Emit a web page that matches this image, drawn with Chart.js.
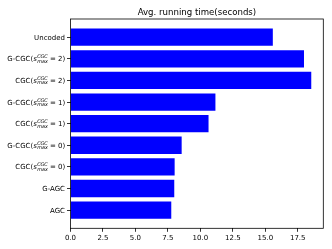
<!DOCTYPE html>
<html lang="en">
<head>
<meta charset="UTF-8">
<title>Avg. running time</title>
<script src="https://cdn.jsdelivr.net/npm/chart.js"></script>
<style>
  body { margin: 0; background: #fff; }
  #wrap { width: 332px; height: 249px; }
</style>
</head>
<body>
<div id="wrap"><canvas id="chart"></canvas></div>
<script>
// bottom to top, same order as the barh call
const categories = [
  'AGC',
  'G-AGC',
  'CGC($s_{max}^{CGC}=0$)',
  'G-CGC($s_{max}^{CGC}=0$)',
  'CGC($s_{max}^{CGC}=1$)',
  'G-CGC($s_{max}^{CGC}=1$)',
  'CGC($s_{max}^{CGC}=2$)',
  'G-CGC($s_{max}^{CGC}=2$)',
  'Uncoded'
];
const runTimes = [7.76, 7.99, 8.02, 8.56, 10.63, 11.16, 18.54, 17.98, 15.58];
const xTicks = [0, 2.5, 5, 7.5, 10, 12.5, 15, 17.5];
const chartTitle = 'Avg. running time(seconds)';

const FONT = '"DejaVu Sans", sans-serif';
const tickSize = 7;
const titleSize = 8.6;

// matplotlib style margins: bars are 0.8 tall, 5% padding on both axes
const barHalf = 0.4;
const yPad = barHalf + 0.05 * (categories.length - 1 + 2 * barHalf);
const xMax = Math.max(...runTimes) * 1.05;

// draws "pre$s_{sub}^{sup}=v$post" with stacked scripts
function drawLabel(ctx, text, right, y) {
  const base = tickSize + 'px ' + FONT;
  const ital = 'oblique ' + tickSize + 'px ' + FONT;
  const small = 'oblique ' + (tickSize * 0.7).toFixed(2) + 'px ' + FONT;
  const baseline = y + tickSize * 0.36;
  ctx.fillStyle = '#000';
  ctx.textBaseline = 'alphabetic';
  ctx.textAlign = 'left';
  const m = text.match(/^(.*)\$(\w)_\{(\w+)\}\^\{(\w+)\}=(\w+)\$(.*)$/);
  if (!m) {
    ctx.font = base;
    ctx.textAlign = 'right';
    ctx.fillText(text, right, baseline);
    return;
  }
  const [, pre, v, sub, sup, val, post] = m;
  const rest = ' = ' + val + post;
  ctx.font = base;
  const wPre = ctx.measureText(pre).width;
  const wRest = ctx.measureText(rest).width;
  ctx.font = ital;
  const wV = ctx.measureText(v).width;
  ctx.font = small;
  const wScript = Math.max(ctx.measureText(sub).width, ctx.measureText(sup).width);
  let x = right - (wPre + wV + wScript + wRest);
  ctx.font = base;
  ctx.fillText(pre, x, baseline);
  x += wPre;
  ctx.font = ital;
  ctx.fillText(v, x, baseline);
  x += wV + 0.3;
  ctx.font = small;
  ctx.fillText(sup, x, baseline - tickSize * 0.42);
  ctx.fillText(sub, x, baseline + tickSize * 0.2);
  x += wScript;
  ctx.font = base;
  ctx.fillText(rest, x, baseline);
}

const decorations = {
  id: 'decorations',
  afterDatasetsDraw(chart) {
    const { ctx, chartArea: a } = chart;
    ctx.save();
    ctx.strokeStyle = '#000';
    ctx.lineWidth = 0.8;
    ctx.strokeRect(a.left, a.top, a.right - a.left, a.bottom - a.top);
    ctx.restore();
  },
  afterDraw(chart) {
    const { ctx, chartArea: a, scales } = chart;
    ctx.save();
    categories.forEach((c, i) => {
      drawLabel(ctx, c, a.left - 5.5, scales.y.getPixelForValue(i));
    });
    ctx.font = titleSize + 'px ' + FONT;
    ctx.textAlign = 'center';
    ctx.textBaseline = 'middle';
    ctx.fillStyle = '#000';
    ctx.fillText(chartTitle, (a.left + a.right) / 2, 13);
    ctx.restore();
  }
};

new Chart(document.getElementById('chart'), {
  type: 'bar',
  data: {
    datasets: [{
      data: runTimes.map((t, i) => ({ x: t, y: i })),
      backgroundColor: '#0000ff',
      borderWidth: 0,
      barPercentage: 0.8,
      categoryPercentage: 1
    }]
  },
  options: {
    indexAxis: 'y',
    responsive: true,
    maintainAspectRatio: false,
    animation: false,
    layout: { padding: { top: 19, right: 8.7, left: 0, bottom: 0 } },
    plugins: { legend: { display: false }, tooltip: { enabled: false }, title: { display: false } },
    scales: {
      x: {
        type: 'linear',
        min: 0,
        max: xMax,
        afterBuildTicks: s => { s.ticks = xTicks.map(v => ({ value: v })); },
        afterFit: s => { s.height = 20.7; },
        ticks: {
          callback: v => Number(v).toFixed(1),
          font: { family: FONT, size: tickSize },
          color: '#000',
          padding: 2,
          maxRotation: 0
        },
        grid: { drawOnChartArea: false, drawTicks: true, tickLength: 3.5, color: '#000', lineWidth: 0.8 },
        border: { display: false }
      },
      y: {
        type: 'linear',
        min: -yPad,
        max: categories.length - 1 + yPad,
        offset: false,
        afterBuildTicks: s => { s.ticks = categories.map((_, i) => ({ value: i })); },
        afterFit: s => { s.width = 70.5; },
        ticks: { callback: () => '' },
        grid: { drawOnChartArea: false, drawTicks: true, tickLength: 3.5, color: '#000', lineWidth: 0.8, offset: false },
        border: { display: false }
      }
    }
  },
  plugins: [decorations]
});
</script>
</body>
</html>
